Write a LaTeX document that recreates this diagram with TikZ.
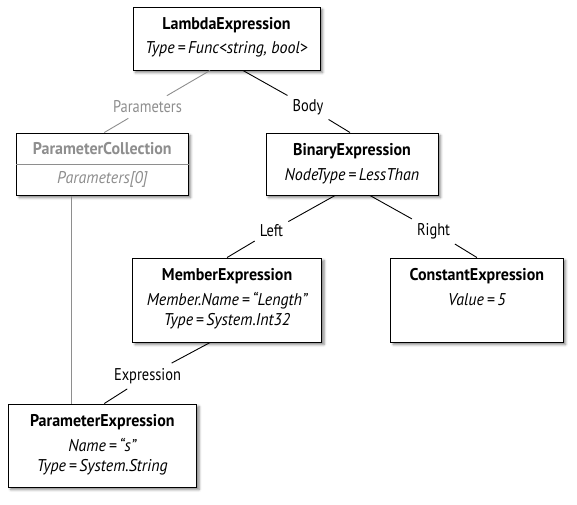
\documentclass[tikz,border=0pt]{standalone}
\usepackage{fontspec}
\setmainfont{PT Sans}[FakeStretch=0.94]
\newfontfamily\lblfont{PT Sans}[FakeStretch=0.85]
\usetikzlibrary{shadows.blur}
\definecolor{fade}{HTML}{8E8E8E}
\begin{document}
\begin{tikzpicture}[x=1pt,y=-1pt,
  font=\fontsize{17}{19}\selectfont,
  box/.style={draw=black, line width=1pt, fill=white, inner sep=0pt,
    blur shadow={shadow xshift=2.5pt, shadow yshift=-2.5pt, shadow blur radius=2.5pt, shadow opacity=50}},
  ttl/.style={anchor=base, inner sep=0pt, font=\fontsize{17}{19}\selectfont\bfseries},
  attr/.style={anchor=base, inner sep=0pt, font=\fontsize{17}{19}\selectfont\itshape},
  elabel/.style={inner xsep=5pt, inner ysep=5pt, font=\fontsize{17}{19}\lblfont},
  edge/.style={draw=black, line width=0.9pt},
  fadeedge/.style={draw=fade, line width=0.9pt}]
\useasboundingbox (0,0) rectangle (577,504);

% boxes
\node[box, minimum width=187pt, minimum height=63pt] (lambda) at (226.5,38.5) {};
\node[box, minimum width=171.4pt, minimum height=62pt] (pc) at (102.3,164) {};
\node[box, minimum width=172pt, minimum height=62pt] (binary) at (352,164) {};
\node[box, minimum width=188.8pt, minimum height=84pt] (member) at (227.1,300) {};
\node[box, minimum width=172.2pt, minimum height=84pt] (constant) at (476.9,300) {};
\node[box, minimum width=188.4pt, minimum height=83pt] (pe) at (102.3,445.5) {};

% box texts
\node[ttl] (lambda-t) at ([yshift=-23pt]lambda.north) {LambdaExpression};
\node[attr] (lambda-a) at ([yshift=-47pt]lambda.north) {Type\,=\,Func<string, bool>};

\draw[fade, line width=0.9pt] (pc.west) -- (pc.east);
\node[ttl, text=fade] (pc-t) at ([yshift=-22pt]pc.north) {ParameterCollection};
\node[attr, text=fade] (pc-a) at ([yshift=-51pt]pc.north) {Parameters[0]};

\node[ttl] (binary-t) at ([yshift=-22.5pt]binary.north) {BinaryExpression};
\node[attr] (binary-a) at ([yshift=-48pt]binary.north) {NodeType\,=\,LessThan};

\node[ttl] (member-t) at ([yshift=-22.5pt]member.north) {MemberExpression};
\node[attr] (member-a) at ([yshift=-48pt]member.north) {Member.Name\,=\,“Length”};
\node[attr] (member-b) at ([yshift=-68pt]member.north) {Type\,=\,System.Int32};

\node[ttl] (constant-t) at ([yshift=-22.5pt]constant.north) {ConstantExpression};
\node[attr] (constant-a) at ([yshift=-48pt]constant.north) {Value\,=\,5};

\node[ttl] (pe-t) at ([yshift=-22.5pt]pe.north) {ParameterExpression};
\node[attr] (pe-a) at ([yshift=-48pt]pe.north) {Name\,=\,“s”};
\node[attr] (pe-b) at ([yshift=-68pt]pe.north) {Type\,=\,System.String};

% edge labels
\node[elabel, text=fade] (l-param) at (147.5,107) {Parameters};
\node[elabel] (l-body) at (308,107) {Body};
\node[elabel] (l-left) at (271.5,231) {Left};
\node[elabel] (l-right) at (433.6,231) {Right};
\node[elabel] (l-expr) at (147.5,376) {Expression};

% connectors
\draw[fadeedge] ([xshift=-16.5pt]lambda.south) -- (l-param) -- ([xshift=2pt]pc.north);
\draw[edge] ([xshift=16.5pt]lambda.south) -- (l-body) -- ([xshift=-2pt]binary.north);
\draw[edge] ([xshift=-17pt]binary.south) -- (l-left) -- (member.north);
\draw[edge] ([xshift=18pt]binary.south) -- (l-right) -- (constant.north);
\draw[edge] ([xshift=-17pt]member.south) -- (l-expr) -- ([xshift=2pt]pe.north);
\coordinate (vx) at (71.2,0);
\draw[fadeedge] (pc.south -| vx) -- (pe.north -| vx);
\end{tikzpicture}
\end{document}
